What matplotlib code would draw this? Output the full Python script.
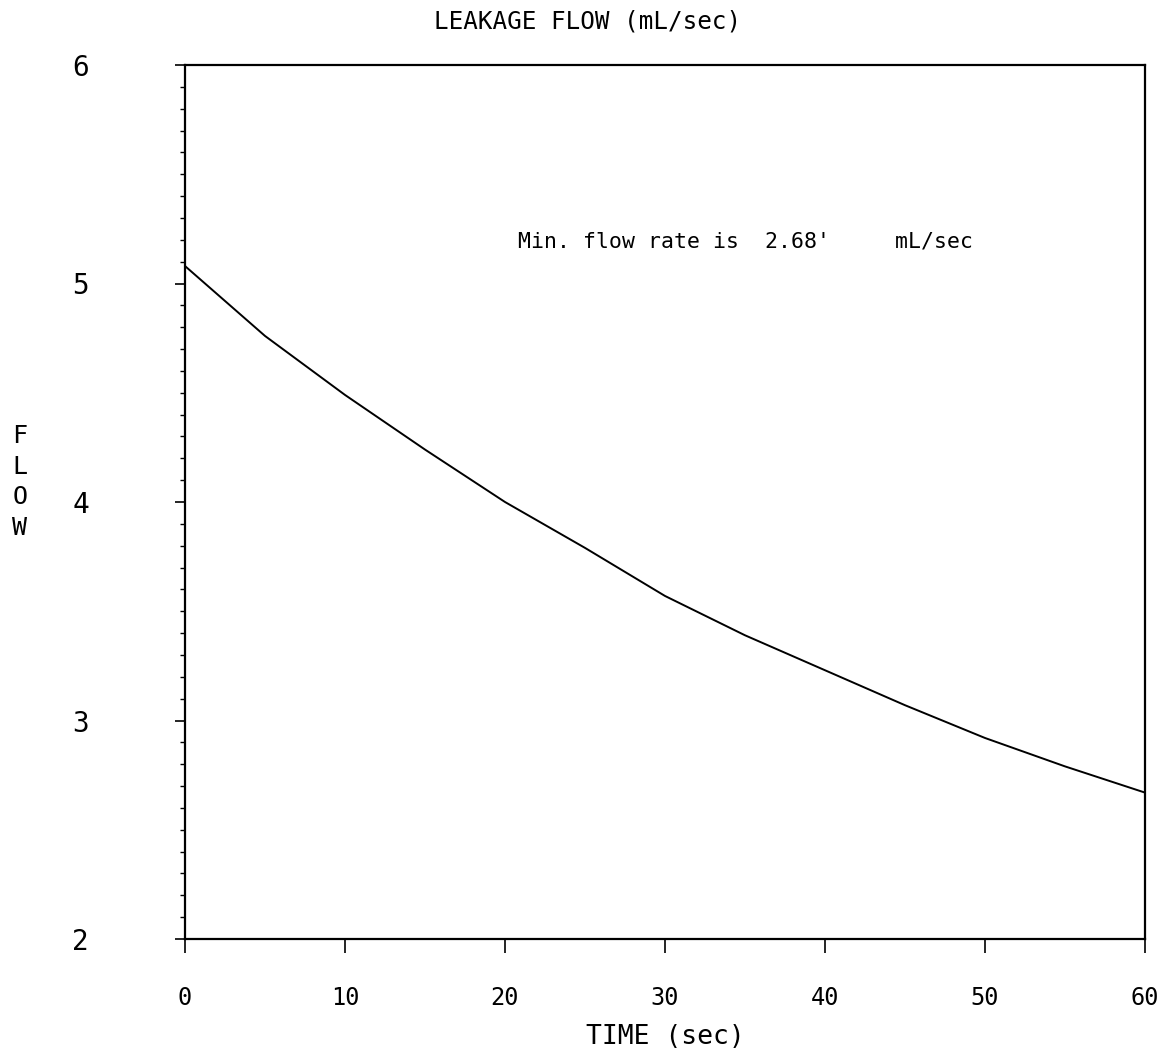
import numpy as np
import matplotlib
matplotlib.use("Agg")
import matplotlib.pyplot as plt
from matplotlib.ticker import MultipleLocator

# values
time_sec = [0, 5, 10, 15, 20, 25, 30, 35, 40, 45, 50, 55, 60]
flow = [5.08, 4.76, 4.49, 4.24, 4.00, 3.79, 3.57, 3.39, 3.23, 3.07, 2.92, 2.79, 2.67]
x_ticks = [0, 10, 20, 30, 40, 50, 60]
y_ticks = [2, 3, 4, 5, 6]
min_flow = "2.68'"

plt.rcParams['font.family'] = ['DejaVu Sans Mono']

fig = plt.figure(figsize=(11.68, 10.63), dpi=100)
ax = fig.add_axes([185 / 1168, 1 - 939 / 1063, 960 / 1168, 874 / 1063])

ax.plot(time_sec, flow, color="black", linewidth=1.4)

ax.set_xlim(0, 60)
ax.set_ylim(2, 6)
ax.set_xticks(x_ticks)
ax.set_yticks(y_ticks)
ax.yaxis.set_minor_locator(MultipleLocator(0.1))

for s in ax.spines.values():
    s.set_linewidth(1.6)
    s.set_color("black")

ax.tick_params(axis="x", direction="out", length=10, width=1.2, pad=24, labelsize=17)
ax.tick_params(axis="y", which="major", direction="out", length=7, width=1.2, pad=62, labelsize=20)
ax.tick_params(axis="y", which="minor", direction="out", length=3.5, width=1.0)

ax.set_xlabel("TIME (sec)", fontsize=19, labelpad=10)
ax.set_ylabel("F\nL\nO\nW", rotation=0, fontsize=18, linespacing=1.35, va="center", ha="center")
ax.yaxis.set_label_coords(-0.172, 0.523)

fig.text(588 / 1168, 1 - 22 / 1063, "LEAKAGE FLOW (mL/sec)", fontsize=17.5, ha="center", va="center")

ax.text(20.8, 5.19, "Min. flow rate is  " + min_flow + "     mL/sec", fontsize=15.5, ha="left", va="center")

fig.savefig("out.png", dpi=100)
